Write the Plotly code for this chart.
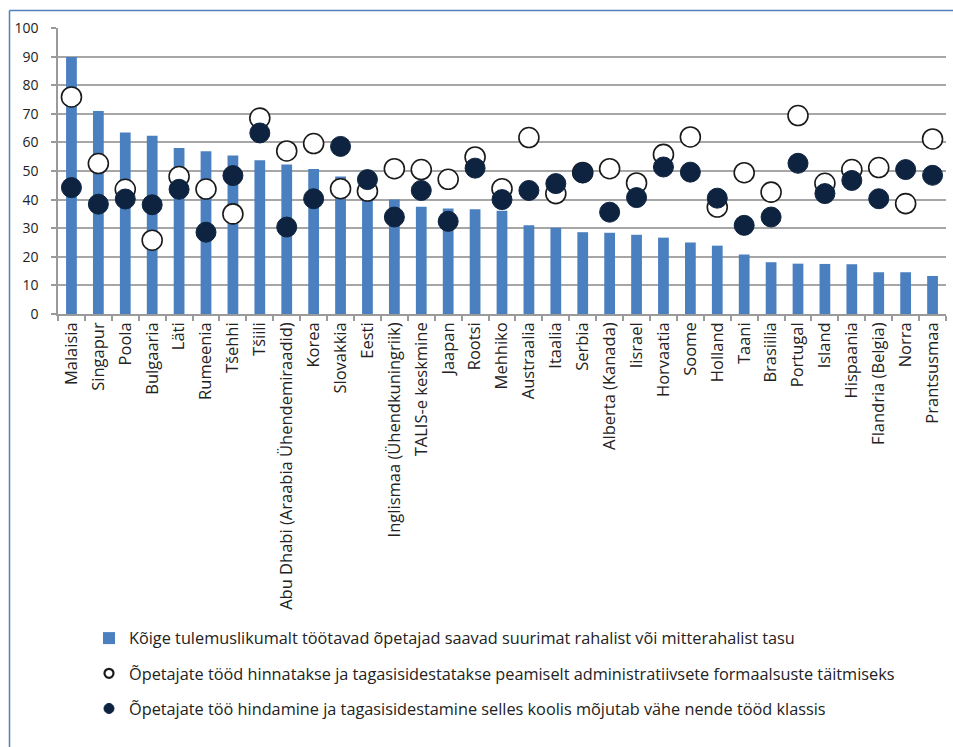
import plotly.graph_objects as go

countries = ["Malaisia", "Singapur", "Poola", "Bulgaaria", "Läti", "Rumeenia", "Tšehhi", "Tšiili",
             "Abu Dhabi (Araabia Ühendemiraadid)", "Korea", "Slovakkia", "Eesti",
             "Inglismaa (Ühendkuningriik)", "TALIS-e keskmine", "Jaapan", "Rootsi", "Mehhiko",
             "Austraalia", "Itaalia", "Serbia", "Alberta (Kanada)", "Iisrael", "Horvaatia", "Soome",
             "Holland", "Taani", "Brasiilia", "Portugal", "Island", "Hispaania", "Flandria (Belgia)",
             "Norra", "Prantsusmaa"]

reward = [89.9, 71.0, 63.5, 62.3, 58.0, 56.9, 55.4, 53.8, 52.3, 50.7, 48.1, 41.0,
          40.0, 37.5, 36.9, 36.6, 36.1, 31.0, 30.2, 28.6, 28.4, 27.7, 26.7, 25.0,
          23.9, 20.8, 18.1, 17.6, 17.5, 17.4, 14.6, 14.6, 13.3]

admin = [75.9, 52.6, 43.6, 25.8, 48.1, 43.7, 35.0, 68.5, 57.0, 59.6, 43.8, 43.0,
         50.8, 50.5, 47.1, 54.9, 43.8, 61.7, 42.1, 49.5, 50.8, 45.8, 55.8, 61.9,
         37.4, 49.4, 42.6, 69.4, 45.7, 50.5, 51.2, 38.6, 61.2]

little_impact = [44.2, 38.4, 40.2, 38.2, 43.6, 28.6, 48.4, 63.3, 30.4, 40.3, 58.6, 47.0,
                 33.9, 43.2, 32.4, 51.0, 40.0, 43.2, 45.6, 49.3, 35.6, 40.7, 51.4, 49.6,
                 40.5, 31.0, 33.9, 52.7, 42.1, 46.7, 40.3, 50.5, 48.5]

y_ticks = list(range(0, 101, 10))

names = ["Kõige tulemuslikumalt töötavad õpetajad saavad suurimat rahalist või mitterahalist tasu",
         "Õpetajate tööd hinnatakse ja tagasisidestatakse peamiselt administratiivsete formaalsuste täitmiseks",
         "Õpetajate töö hindamine ja tagasisidestamine selles koolis mõjutab vähe nende tööd klassis"]

font_family = "Open Sans, Noto Sans, sans-serif"
BAR_C = "#4A80BF"
DOT_C = "#0D2340"

fig = go.Figure()
fig.add_trace(go.Bar(x=countries, y=reward, name=names[0], marker=dict(color=BAR_C, line=dict(width=0)),
                     legendgroup="a", showlegend=True))
fig.add_trace(go.Scatter(x=countries, y=admin, name=names[1], mode="markers", showlegend=False,
                         marker=dict(symbol="circle", size=20, color="white",
                                     line=dict(color="#1a1a1a", width=1.6))))
fig.add_trace(go.Scatter(x=countries, y=little_impact, name=names[2], mode="markers", showlegend=False,
                         marker=dict(symbol="circle", size=20, color=DOT_C,
                                     line=dict(color=DOT_C, width=1))))
# legend-only entries with small symbols, as in the reference legend
fig.add_trace(go.Scatter(x=[None], y=[None], name=names[1], mode="markers", legendgroup="b",
                         marker=dict(symbol="circle", size=9, color="white",
                                     line=dict(color="#1a1a1a", width=2.2))))
fig.add_trace(go.Scatter(x=[None], y=[None], name=names[2], mode="markers", legendgroup="c",
                         marker=dict(symbol="circle", size=10, color=DOT_C,
                                     line=dict(color=DOT_C, width=1))))

W, H = 953, 747
L, R, T, B = 58, 7, 28, 433
pw = W - L - R
ph = H - T - B

def px2x(px):
    return (px - L) / pw

def py2y(py):
    return (H - B - py) / ph

frame = dict(color="#4F81BD", width=1.5)

fig.update_layout(
    width=W, height=H,
    margin=dict(l=L, r=R, t=T, b=B, autoexpand=False),
    paper_bgcolor="white", plot_bgcolor="white",
    bargap=0.6,
    font=dict(family=font_family, size=14, color="#222222"),
    showlegend=True,
    legend=dict(x=px2x(89), y=py2y(621), xanchor="left", yanchor="top",
                orientation="v", tracegroupgap=11, itemsizing="trace",
                font=dict(size=16.3, color="#222222"), bgcolor="rgba(0,0,0,0)"),
    xaxis=dict(type="category", range=[-0.5, len(countries) - 0.5], tickangle=-90, showgrid=False,
               showline=True, linecolor="#9a9a9a", linewidth=1.5,
               ticks="outside", tickson="boundaries", ticklen=5, tickcolor="#9a9a9a", tickwidth=1.5,
               tickfont=dict(size=16.5, color="#222222")),
    yaxis=dict(range=[0, 100], tickvals=y_ticks, showgrid=True, gridcolor="#a6a6a6", gridwidth=1.5,
               showline=True, linecolor="#9a9a9a", linewidth=1.5,
               ticks="outside", ticklen=5, tickcolor="#9a9a9a", tickwidth=1.5,
               ticklabelstandoff=10,
               tickfont=dict(size=14, color="#222222"), zeroline=False),
    shapes=[
        dict(type="line", xref="paper", yref="paper",
             x0=px2x(9.5), x1=px2x(953), y0=py2y(10.5), y1=py2y(10.5), line=frame, layer="below"),
        dict(type="line", xref="paper", yref="paper",
             x0=px2x(9.5), x1=px2x(9.5), y0=py2y(10.5), y1=py2y(747), line=frame, layer="below"),
    ],
)

fig.write_html("out.html", config={"displayModeBar": False},
               post_script="document.body.style.margin='0';")
